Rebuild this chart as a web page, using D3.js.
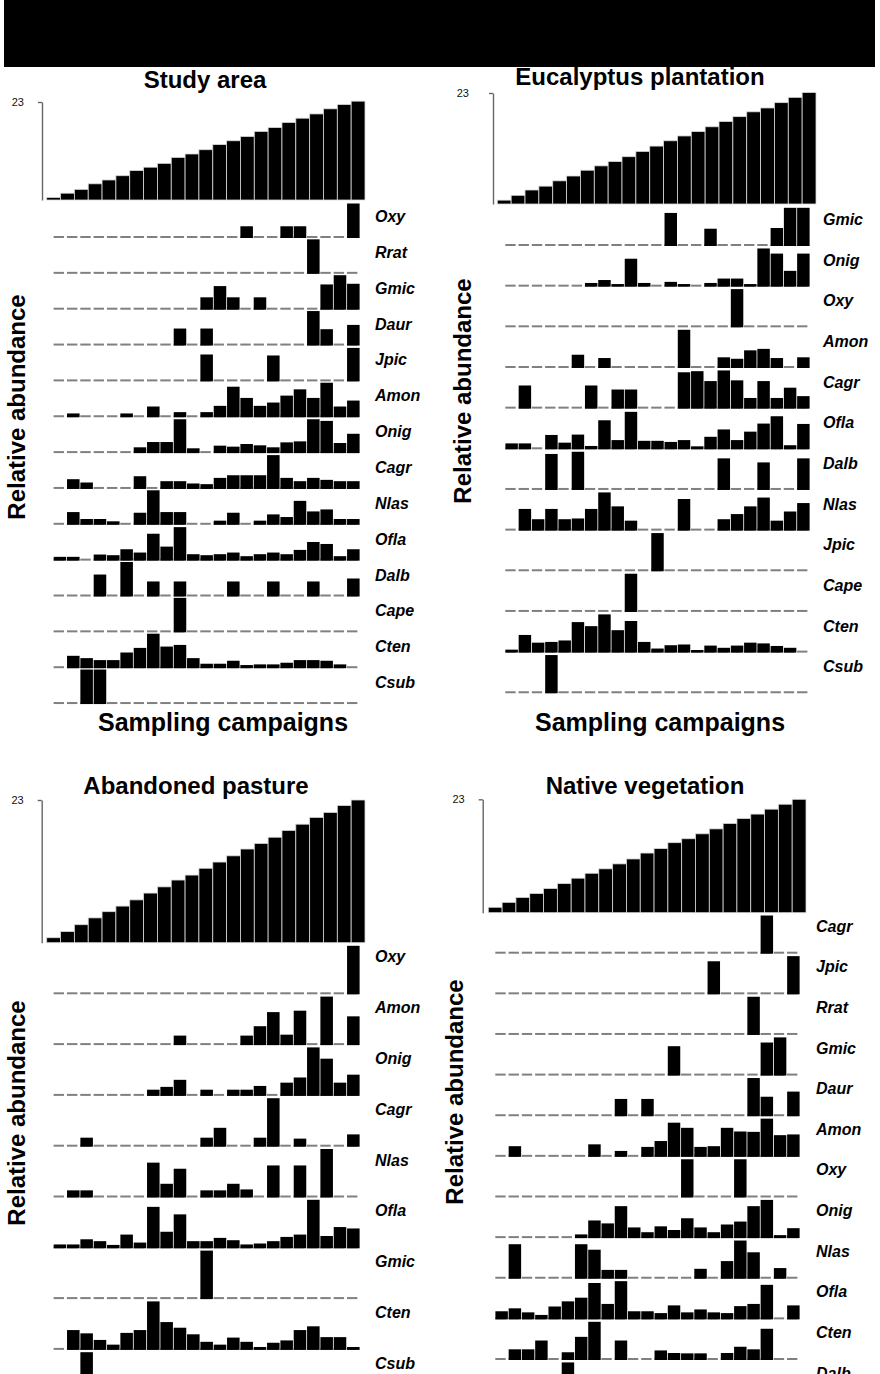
<!DOCTYPE html>
<html>
<head>
<meta charset="utf-8">
<script src="https://cdn.jsdelivr.net/npm/d3@7"></script>
<style>
  body { margin: 0; background: #fff; }
  svg { display: block; }
  text { font-family: "Liberation Sans", Arial, sans-serif; }
</style>
</head>
<body>
<svg id="chart" width="880" height="1374"></svg>
<script>
// ---- Sampling campaigns (x categories) ----
const campaigns = [1,2,3,4,5,6,7,8,9,10,11,12,13,14,15,16,17,18,19,20,21,22,23];
const cumulativeTicks = [23];

// ---- Study area ----
const studyCumulative = [0.6,1.6,2.5,3.8,4.7,5.7,6.9,7.7,8.6,10,10.8,11.8,13,13.9,14.9,16.1,17,18.2,19.2,20.2,21.4,22.4,23.2];
const studySpecies = ["Oxy","Rrat","Gmic","Daur","Jpic","Amon","Onig","Cagr","Nlas","Ofla","Dalb","Cape","Cten","Csub"];
const studyAbundance = [
  [0,0,0,0,0,0,0,0,0,0,0,0,0,0,.31,0,0,.31,.31,0,0,0,1],
  [0,0,0,0,0,0,0,0,0,0,0,0,0,0,0,0,0,0,0,1,0,0,0],
  [0,0,0,0,0,0,0,0,0,0,0,.33,.67,.33,0,.33,0,0,0,0,.72,1,.74],
  [0,0,0,0,0,0,0,0,0,.47,0,.47,0,0,0,0,0,0,0,1,.45,0,.58],
  [0,0,0,0,0,0,0,0,0,0,0,.77,0,0,0,0,.74,0,0,0,0,0,.97],
  [0,.07,0,0,0,.07,0,.28,0,.11,0,.11,.3,.88,.54,.3,.4,.61,.8,.54,1,.28,.46],
  [0,0,0,0,0,0,.13,.29,.29,.98,.1,0,.18,.15,.23,.19,.13,.28,.31,.98,.93,.26,.54],
  [0,.25,.15,0,0,0,.34,0,.19,.19,.12,.1,.29,.37,.37,.37,.98,.29,.19,.29,.23,.19,.19],
  [0,.34,.13,.13,.06,0,.32,1,.34,.34,0,0,.08,.32,0,.08,.27,.19,.68,.36,.42,.13,.13],
  [.07,.07,0,.14,.12,.3,.2,.77,.38,.97,.15,.12,.15,.2,.09,.15,.2,.15,.28,.52,.46,.09,.3],
  [0,0,0,.62,0,1,0,.41,0,.41,0,0,0,.41,0,0,.41,0,0,.41,0,0,.5],
  [0,0,0,0,0,0,0,0,0,1,0,0,0,0,0,0,0,0,0,0,0,0,0],
  [0,.33,.26,.2,.2,.43,.57,1,.61,.66,.26,.09,.09,.18,.05,.07,.07,.12,.2,.2,.18,.07,0],
  [0,0,1,1,0,0,0,0,0,0,0,0,0,0,0,0,0,0,0,0,0,0,0]
];

// ---- Eucalyptus plantation ----
const eucCumulative = [0.8,1.8,2.9,3.7,4.8,5.8,7,7.9,8.8,9.8,10.9,12,13.1,14.1,15,16,17.1,18.1,19.1,19.9,21,22.1,23.1];
const eucSpecies = ["Gmic","Onig","Oxy","Amon","Cagr","Ofla","Dalb","Nlas","Jpic","Cape","Cten","Csub"];
const eucAbundance = [
  [0,0,0,0,0,0,0,0,0,0,0,0,.86,0,0,.43,0,0,0,0,.45,1,1],
  [0,0,0,0,0,0,.06,.14,.03,.72,.06,0,.09,.03,0,.06,.18,.18,.03,1,.86,.39,.86],
  [0,0,0,0,0,0,0,0,0,0,0,0,0,0,0,0,0,1,0,0,0,0,0],
  [0,0,0,0,0,.32,0,.23,0,0,0,0,0,1,0,0,.25,.21,.44,.48,.23,0,.25],
  [0,.59,0,0,0,0,.59,0,.48,.48,0,0,0,.95,.98,.71,1,.73,.25,.71,.25,.53,.3],
  [.12,.12,0,.35,.14,.36,.05,.75,.21,.98,.19,.19,.16,.21,.04,.3,.5,.21,.44,.66,.86,.07,.65],
  [0,0,0,.94,0,1,0,0,0,0,0,0,0,0,0,0,.82,0,0,.71,0,0,.82],
  [0,.55,.27,.55,.27,.29,.55,1,.62,.23,0,0,0,.82,0,0,.27,.41,.62,.86,.23,.48,.71],
  [0,0,0,0,0,0,0,0,0,0,0,1,0,0,0,0,0,0,0,0,0,0,0],
  [0,0,0,0,0,0,0,0,0,1,0,0,0,0,0,0,0,0,0,0,0,0,0],
  [.04,.44,.23,.25,.29,.79,.68,1,.57,.82,.25,.07,.16,.18,.03,.15,.09,.15,.23,.21,.14,.09,0],
  [0,0,0,1,0,0,0,0,0,0,0,0,0,0,0,0,0,0,0,0,0,0,0]
];

// ---- Abandoned pasture ----
const pastureCumulative = [0.8,1.8,2.9,4,5,5.9,6.9,8,9,10.1,10.9,12,13,14,15.1,16,17,18.1,19.1,20.2,21,22.1,23];
const pastureSpecies = ["Oxy","Amon","Onig","Cagr","Nlas","Ofla","Gmic","Cten","Csub"];
const pastureAbundance = [
  [0,0,0,0,0,0,0,0,0,0,0,0,0,0,0,0,0,0,0,0,0,0,1],
  [0,0,0,0,0,0,0,0,0,.17,0,0,0,0,.17,.37,.67,.19,.7,0,1,0,.58],
  [0,0,0,0,0,0,0,.1,.16,.31,0,.1,0,.1,.1,.18,0,.25,.36,1,.76,.25,.42],
  [0,0,.16,0,0,0,0,0,0,0,0,.16,.37,0,0,.16,1,0,.14,0,0,0,.23],
  [0,.12,.12,0,0,0,0,.71,.26,.58,0,.12,.12,.26,.14,0,.65,0,.65,0,1,0,0],
  [.05,.05,.16,.12,.04,.26,.09,.85,.32,.69,.12,.12,.19,.14,.05,.07,.12,.21,.26,1,.23,.42,.39],
  [0,0,0,0,0,0,0,0,0,0,0,1,0,0,0,0,0,0,0,0,0,0,0],
  [0,.39,.32,.18,.08,.33,.39,1,.56,.44,.3,.14,.08,.23,.14,.03,.12,.17,.39,.47,.24,.24,.03],
  [0,0,1,0,0,0,0,0,0,0,0,0,0,0,0,0,0,0,0,0,0,0,0]
];

// ---- Native vegetation ----
const nativeCumulative = [1.1,2.1,3.1,3.9,4.9,5.9,7,8,8.9,9.9,10.9,12.1,13,14.2,15,16,17,18.1,19.1,20,21,22,23];
const nativeSpecies = ["Cagr","Jpic","Rrat","Gmic","Daur","Amon","Oxy","Onig","Nlas","Ofla","Cten","Dalb"];
const nativeAbundance = [
  [0,0,0,0,0,0,0,0,0,0,0,0,0,0,0,0,0,0,0,0,1,0,0],
  [0,0,0,0,0,0,0,0,0,0,0,0,0,0,0,0,.86,0,0,0,0,0,1],
  [0,0,0,0,0,0,0,0,0,0,0,0,0,0,0,0,0,0,0,1,0,0,0],
  [0,0,0,0,0,0,0,0,0,0,0,0,0,.76,0,0,0,0,0,0,.86,1,0],
  [0,0,0,0,0,0,0,0,0,.43,0,.43,0,0,0,0,0,0,0,1,.49,0,.63],
  [0,.25,0,0,0,0,0,.3,0,.12,0,.23,.39,.89,.75,.23,.25,.75,.65,.64,1,.55,.57],
  [0,0,0,0,0,0,0,0,0,0,0,0,0,0,1,0,0,0,1,0,0,0,0],
  [0,0,0,0,0,0,.06,.44,.36,.83,.25,.12,.28,.18,.5,.25,.12,.33,.41,.83,1,.04,.23],
  [0,.9,0,0,0,0,.9,.75,.2,.2,0,0,0,0,0,.23,0,.44,1,.68,0,.25,0],
  [.18,.26,.15,.08,.31,.45,.55,.95,.38,1,.18,.18,.13,.34,.15,.23,.15,.13,.32,.38,.9,0,.34],
  [0,.25,.25,.49,0,.17,.59,1,0,.49,0,0,.22,.15,.14,.14,0,.15,.32,.25,.81,0,0],
  [0,0,0,0,0,1,0,0,0,0,0,0,0,0,0,0,0,0,0,0,0,0,0]
];

// ---- Panel placement ----
const panels = [
  { title: "Study area", titleAt: [205, 88],
    cum: studyCumulative, cumX: [46.7, 365], cumY: [200, 102], axisX: 42, tickPad: 14,
    species: studySpecies, rows: studyAbundance, rowX: [53.3, 360],
    firstBase: 237, step: 35.85, fullH: 33, labelX: 375, labelOff: 15,
    yLabelAt: [16, 407], xLabelAt: [223, 731] },
  { title: "Eucalyptus plantation", titleAt: [640, 85],
    cum: eucCumulative, cumX: [497.3, 816], cumY: [204, 93], axisX: 493, tickPad: 20,
    species: eucSpecies, rows: eucAbundance, rowX: [505, 810],
    firstBase: 245, step: 40.66, fullH: 36.7, labelX: 823, labelOff: 20,
    yLabelAt: [462, 391], xLabelAt: [660, 731] },
  { title: "Abandoned pasture", titleAt: [196, 794],
    cum: pastureCumulative, cumX: [46.7, 365], cumY: [942.7, 800], axisX: 41.7, tickPad: 14,
    species: pastureSpecies, rows: pastureAbundance, rowX: [53.3, 360],
    firstBase: 993.3, step: 50.8, fullH: 47, labelX: 375, labelOff: 31,
    yLabelAt: [16, 1113], xLabelAt: null },
  { title: "Native vegetation", titleAt: [645, 794],
    cum: nativeCumulative, cumX: [488.3, 806], cumY: [912.7, 799.3], axisX: 482.7, tickPad: 14,
    species: nativeSpecies, rows: nativeAbundance, rowX: [495, 800],
    firstBase: 952.7, step: 40.63, fullH: 36.7, labelX: 816, labelOff: 21,
    yLabelAt: [454, 1092], xLabelAt: null }
];

const svg = d3.select("#chart");

// black banner across the top
svg.append("rect").attr("x", 4).attr("y", 0).attr("width", 871).attr("height", 67).attr("fill", "#000");

panels.forEach(p => {
  const g = svg.append("g");

  // title
  g.append("text")
    .attr("x", p.titleAt[0]).attr("y", p.titleAt[1])
    .attr("text-anchor", "middle")
    .attr("font-size", 24).attr("font-weight", "bold")
    .text(p.title);

  // cumulative number of campaigns
  const xc = d3.scaleBand().domain(campaigns).range(p.cumX).padding(0);
  const yc = d3.scaleLinear().domain([0, 23]).range(p.cumY);
  g.append("g").selectAll("rect")
    .data(campaigns)
    .join("rect")
    .attr("x", (d) => xc(d))
    .attr("width", xc.bandwidth())
    .attr("y", (d, i) => yc(p.cum[i]))
    .attr("height", (d, i) => yc(0) - yc(p.cum[i]))
    .attr("fill", "#000")
    .attr("stroke", "#d8d8d8")
    .attr("stroke-width", 0.8);

  const axis = d3.axisLeft(yc).tickValues(cumulativeTicks).tickSize(4).tickSizeOuter(0).tickPadding(p.tickPad);
  const ag = g.append("g").attr("transform", `translate(${p.axisX},0)`).call(axis);
  ag.select(".domain").attr("stroke", "#666").attr("stroke-width", 1.4);
  ag.selectAll(".tick line").attr("stroke", "#666").attr("stroke-width", 1.4);
  ag.selectAll(".tick text").attr("font-size", 11).attr("fill", "#111")
    .attr("font-family", "'Liberation Sans', Arial, sans-serif");

  // species rows
  const xr = d3.scaleBand().domain(campaigns).range(p.rowX).padding(0);
  const hr = d3.scaleLinear().domain([0, 1]).range([0, p.fullH]);
  const bw = xr.bandwidth();

  p.species.forEach((name, si) => {
    const base = p.firstBase + si * p.step;
    const row = g.append("g");
    const vals = p.rows[si];

    row.selectAll("line")
      .data(campaigns)
      .join("line")
      .attr("x1", (d) => xr(d) + 0.3)
      .attr("x2", (d) => xr(d) + bw - 2.6)
      .attr("y1", base).attr("y2", base)
      .attr("stroke", "#808080")
      .attr("stroke-width", 2);

    row.selectAll("rect")
      .data(campaigns.filter((d, i) => vals[i] > 0))
      .join("rect")
      .attr("x", (d) => xr(d) + 0.4)
      .attr("width", bw - 0.8)
      .attr("y", (d) => base + 1 - hr(vals[d - 1]) - 1.5)
      .attr("height", (d) => hr(vals[d - 1]) + 1.5)
      .attr("fill", "#000");

    row.append("text")
      .attr("x", p.labelX).attr("y", base - p.labelOff)
      .attr("font-size", 16).attr("font-weight", "bold").attr("font-style", "italic")
      .text(name);
  });

  // axis titles
  g.append("text")
    .attr("transform", `translate(${p.yLabelAt[0]},${p.yLabelAt[1]}) rotate(-90)`)
    .attr("text-anchor", "middle").attr("dominant-baseline", "central")
    .attr("font-size", 24).attr("font-weight", "bold")
    .text("Relative abundance");

  if (p.xLabelAt) {
    g.append("text")
      .attr("x", p.xLabelAt[0]).attr("y", p.xLabelAt[1])
      .attr("text-anchor", "middle")
      .attr("font-size", 25).attr("font-weight", "bold")
      .text("Sampling campaigns");
  }
});
</script>
</body>
</html>
